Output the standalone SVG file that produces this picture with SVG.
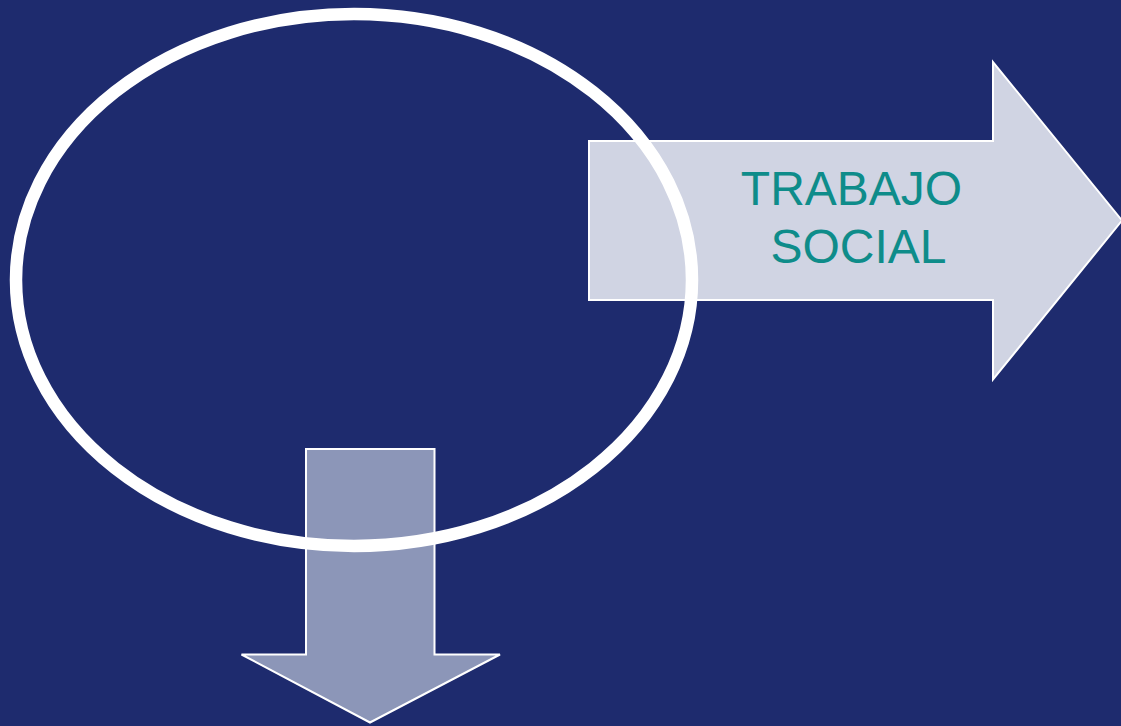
<svg xmlns="http://www.w3.org/2000/svg" width="1121" height="726" viewBox="0 0 1121 726">
  <style>
    .arrow { stroke: #ffffff; stroke-width: 2; stroke-linejoin: miter; }
    .label { font-family: "Liberation Sans", Arial, sans-serif; font-size: 48px; fill: #0e8c8a; text-anchor: middle; }
  </style>
  <rect x="0" y="0" width="1121" height="726" fill="#1e2b6e"/>
  <g id="connectors">
    <path id="arrow-down" class="arrow" fill="#8c96b8" d="M306,449 L434.5,449 L434.5,654.5 L500,654.5 L370,722.5 L241.5,654.5 L306,654.5 Z"/>
  </g>
  <g id="node-trabajo-social">
    <path class="arrow" fill="#d0d4e3" d="M589,141 L993,141 L993,62 L1122,220.5 L993,379.5 L993,300 L589,300 Z"/>
    <text class="label" x="851.5" y="205">TRABAJO</text>
    <text class="label" x="858.5" y="263">SOCIAL</text>
  </g>
  <g id="node-ellipse">
    <ellipse cx="354" cy="280" rx="338" ry="266" fill="none" stroke="#ffffff" stroke-width="12.5"/>
  </g>
</svg>
